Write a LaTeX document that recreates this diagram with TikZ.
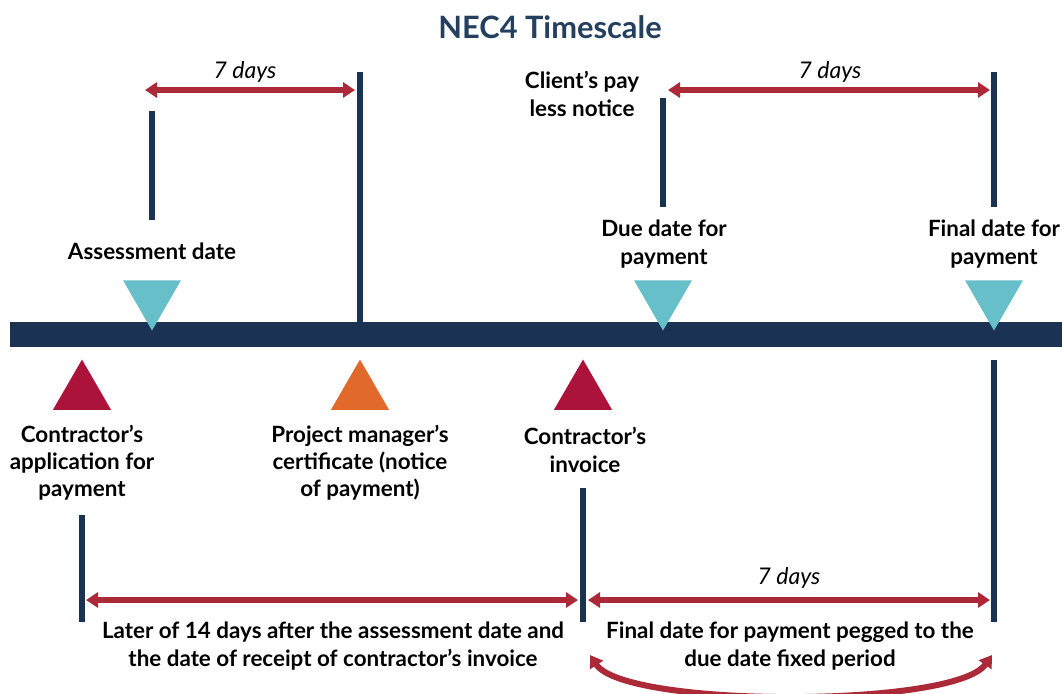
\documentclass[tikz,border=0pt]{standalone}
\usepackage{fontspec}
\setmainfont{Lato}
\usetikzlibrary{arrows.meta, shapes.geometric}
\definecolor{navy}{HTML}{1B3353}
\definecolor{titleblue}{HTML}{253F5E}
\definecolor{tealmark}{HTML}{67BFCA}
\definecolor{crimson}{HTML}{AB133B}
\definecolor{orangemark}{HTML}{E0692B}
\definecolor{spanred}{HTML}{AC2A37}
\tikzset{
    tick/.style={draw=navy, line width=3pt},
    span/.style={
           draw=spanred, line width=3pt,
           {Triangle[length=6pt,width=7.5pt]}-{Triangle[length=6pt,width=7.5pt]},
           },
    lbl/.style={
           align=center,
           inner sep=0pt,
           font=\fontsize{11.2}{13.6}\selectfont\bfseries,
           },
    days/.style={inner sep=0pt, font=\fontsize{11.5}{13}\selectfont\itshape},
    downtri/.style={
           regular polygon, regular polygon sides=3,
           shape border rotate=180,
           fill=tealmark, inner sep=0pt, minimum size=33.5pt,
           },
    uptri/.style={
           regular polygon, regular polygon sides=3,
           fill=#1, inner sep=0pt, minimum size=33.5pt,
           },
}

\begin{document}
\begin{tikzpicture}[x=0.5pt, y=-0.5pt]
  \useasboundingbox (0,0) rectangle (1062,693);
  \node[font=\fontsize{15.4}{18}\selectfont\bfseries, text=titleblue] (title) at (550,27) {NEC4 Timescale};

  % time line
  \fill[navy] (10,322) rectangle (1062,347);

  % markers on the line
  \node[downtri] (assess)  at (152,297) {};
  \node[downtri] (due)     at (663,297) {};
  \node[downtri] (final)   at (994,297) {};
  \node[uptri=crimson]    (appl)    at (82,393)  {};
  \node[uptri=orangemark] (cert)    at (360,393) {};
  \node[uptri=crimson]    (invoice) at (583,393) {};

  % ticks
  \coordinate (t1a) at (152,111); \coordinate (t1b) at (152,220);
  \coordinate (t2a) at (360,72);  \coordinate (t2b) at (360,323);
  \coordinate (t3a) at (663,98);  \coordinate (t3b) at (663,207);
  \coordinate (t4a) at (994,72);  \coordinate (t4b) at (994,207);
  \coordinate (t5a) at (994,360); \coordinate (t5b) at (994,622);
  \coordinate (t6a) at (82,515);  \coordinate (t6b) at (82,622);
  \coordinate (t7a) at (583,488); \coordinate (t7b) at (583,622);
  \foreach \t in {1,...,7}
    \draw[tick] (t\t a) -- (t\t b);

  % periods
  \coordinate (s1a) at (145,90);  \coordinate (s1b) at (355,90);
  \coordinate (s2a) at (668,90);  \coordinate (s2b) at (990,90);
  \coordinate (s3a) at (86,600);  \coordinate (s3b) at (578,600);
  \coordinate (s4a) at (588,600); \coordinate (s4b) at (990,600);
  \foreach \s in {1,...,4}
    \draw[span] (s\s a) -- (s\s b);
  \node[days] (d1) at (245,72)  {7 days};
  \node[days] (d2) at (830,72)  {7 days};
  \node[days] (d3) at (789,578) {7 days};

  \coordinate (c1) at (590,655); \coordinate (c2) at (992,655);
  \draw[span] (c1) .. controls (625,708) and (955,708) .. (c2);

  % labels
  \node[lbl] (lassess)  at (152,251) {Assessment date};
  \node[lbl] (lclient)  at (582,94)  {Client’s pay\\less notice};
  \node[lbl] (ldue)     at (664,244) {Due date for\\payment};
  \node[lbl] (lfinal)   at (994,244) {Final date for\\payment};
  \node[lbl] (lappl)    at (82,463)  {Contractor’s\\application for\\payment};
  \node[lbl] (lcert)    at (360,463) {Project manager’s\\certificate (notice\\of payment)};
  \node[lbl] (linvoice) at (585,450) {Contractor’s\\invoice};
  \node[lbl] (llater)   at (333,646) {Later of 14 days after the assessment date and\\the date of receipt of contractor’s invoice};
  \node[lbl] (lpegged)  at (790,646) {Final date for payment pegged to the\\due date fixed period};
\end{tikzpicture}
\end{document}
